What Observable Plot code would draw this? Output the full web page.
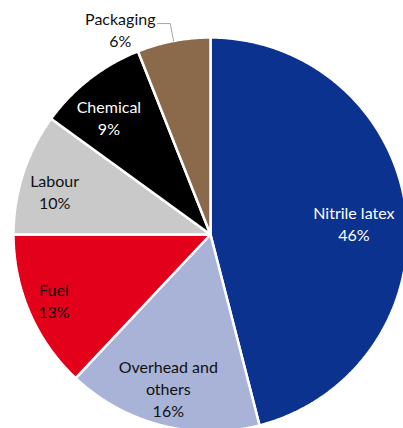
<!DOCTYPE html>
<html>
<head>
<meta charset="utf-8">
<script src="https://cdn.jsdelivr.net/npm/d3@7"></script>
<script src="https://cdn.jsdelivr.net/npm/@observablehq/plot@0.6"></script>
<style>
  html, body { margin: 0; padding: 0; background: #fff; overflow: hidden; }
  #chart svg { display: block; }
</style>
</head>
<body>
<div id="chart"></div>
<script>
// Cost breakdown (share of total, %)
const categories = ["Nitrile latex", "Overhead and others", "Fuel", "Labour", "Chemical", "Packaging"];
const shares = [46, 16, 13, 10, 9, 6];
const labelText = ["Nitrile latex", "Overhead and\nothers", "Fuel", "Labour", "Chemical", "Packaging"];
const colors = ["#0C3290", "#A9B3D8", "#E2001A", "#C9C9C9", "#000000", "#8B6A4B"];
const lightLabels = ["Nitrile latex", "Chemical"];
const outsideLabels = ["Packaging"];

// Layout: canvas, pie centre and radius in pixels
const W = 403, H = 428, cx = 210, cy = 234, R = 197;
const insideRadius = 0.8;      // label anchor, as a fraction of the radius
const leaderRadius = 1.09;     // elbow of the leader line for outside labels
// small pixel nudges applied to each label anchor
const nudge = {
  "Nitrile latex": [-13, 8],
  "Overhead and others": [-3, 1],
  "Fuel": [-12, 3],
  "Labour": [-6, 5],
  "Chemical": [-5, 7],
  "Packaging": [-50, 5]
};

const total = d3.sum(shares);
let acc = 0;
const slices = categories.map((c, i) => {
  const a0 = (acc / total) * 2 * Math.PI;
  acc += shares[i];
  const a1 = (acc / total) * 2 * Math.PI;
  return {category: c, share: shares[i], a0, a1, mid: (a0 + a1) / 2, label: labelText[i]};
});

// Angles run clockwise from 12 o'clock; y points up
const polar = (a, r) => ({x: r * Math.sin(a), y: r * Math.cos(a)});

// Outline of each slice: centre, then points along its arc
const outline = slices.flatMap(s => {
  const n = Math.max(2, Math.ceil((s.a1 - s.a0) / (Math.PI / 360)));
  const pts = [{category: s.category, x: 0, y: 0}];
  for (let k = 0; k <= n; ++k) {
    const p = polar(s.a0 + (s.a1 - s.a0) * k / n, 1);
    pts.push({category: s.category, ...p});
  }
  return pts;
});

// Label anchors
const labels = slices.map(s => {
  const outside = outsideLabels.includes(s.category);
  const p = polar(s.mid, outside ? leaderRadius : insideRadius);
  const [dx, dy] = nudge[s.category];
  return {
    category: s.category,
    text: `${s.label}\n${s.share}%`,
    x: p.x + dx / R,
    y: p.y - dy / R,
    light: lightLabels.includes(s.category)
  };
});

// Leader lines for labels placed outside the pie
const leaders = slices.filter(s => outsideLabels.includes(s.category)).flatMap(s => {
  const edge = polar(s.mid, 1.0);
  const elbow = polar(s.mid, leaderRadius);
  return [
    {category: s.category, ...edge},
    {category: s.category, ...elbow},
    {category: s.category, x: elbow.x - 13 / R, y: elbow.y}
  ];
});

const font = "Lato, 'Open Sans', sans-serif";

const chart = Plot.plot({
  width: W,
  height: H,
  margin: 0,
  style: {background: "#fff", overflow: "hidden"},
  x: {domain: [-cx / R, (W - cx) / R], axis: null},
  y: {domain: [-(H - cy) / R, cy / R], axis: null},
  color: {domain: categories, range: colors},
  marks: [
    Plot.line(outline, {
      x: "x", y: "y", z: "category", fill: "category",
      stroke: "#fff", strokeWidth: 2.5, strokeLinejoin: "miter",
      curve: "linear-closed"
    }),
    Plot.line(leaders, {
      x: "x", y: "y", z: "category",
      stroke: "#A6A6A6", strokeWidth: 1, curve: "linear"
    }),
    Plot.text(labels, {
      filter: d => d.light,
      x: "x", y: "y", text: "text",
      fill: "#fff", fontSize: 16, fontFamily: font,
      lineHeight: 1.375, lineAnchor: "middle", textAnchor: "middle"
    }),
    Plot.text(labels, {
      filter: d => !d.light,
      x: "x", y: "y", text: "text",
      fill: "#111", fontSize: 16, fontFamily: font,
      lineHeight: 1.375, lineAnchor: "middle", textAnchor: "middle"
    })
  ]
});

document.getElementById("chart").append(chart);
</script>
</body>
</html>
